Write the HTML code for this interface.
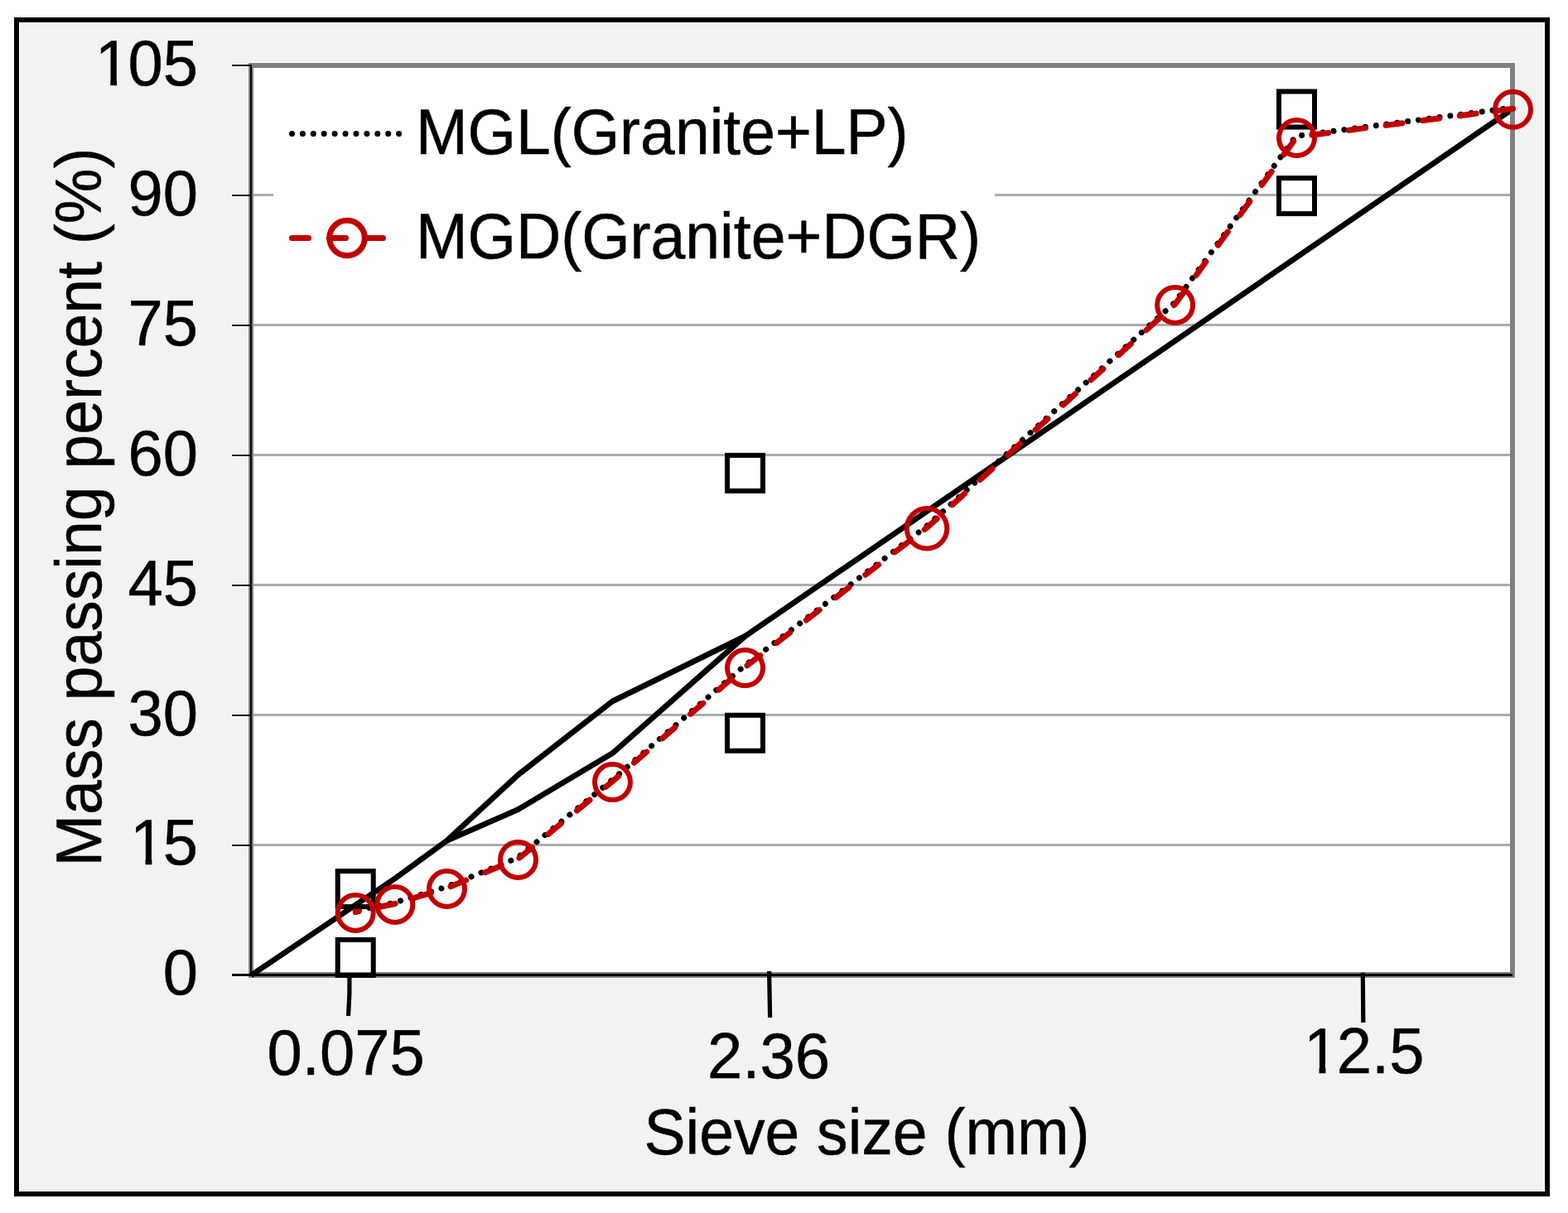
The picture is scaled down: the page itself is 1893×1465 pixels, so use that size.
<!DOCTYPE html>
<html lang="en">
<head>
<meta charset="utf-8">
<title>Aggregate gradation chart</title>
<style>
html,body{margin:0;padding:0;background:#fff;}
body{width:1893px;height:1465px;overflow:hidden;}
svg{display:block;}
text{font-family:"Liberation Sans",Arial,sans-serif;fill:#000;stroke:#000;stroke-width:0.5px;stroke-linejoin:round;}
</style>
</head>
<body>
<svg width="1893" height="1465" viewBox="0 0 1893 1465">
<rect x="0" y="0" width="1893" height="1465" fill="#fff"/>
<!-- outer frame -->
<rect x="17" y="21" width="1854" height="1424" fill="#000"/>
<rect x="23" y="27" width="1842" height="1412" fill="#fff"/>
<rect x="24" y="28" width="1840" height="1410" fill="#f2f2f2"/>
<defs><clipPath id="cp"><rect x="300" y="76" width="1523.3" height="1106"/></clipPath></defs>
<!-- plot area -->
<rect x="299" y="75" width="1531" height="1107" fill="#fff"/>
<rect x="306" y="82" width="1517" height="1092" fill="#fff"/>

<path d="M300 76H1829V1181H300Z M306 82V1174H1823V82Z" fill="#808080" fill-rule="evenodd"/>
<g fill="#afabab">
<rect x="306" y="1019" width="1517" height="3"/>
<rect x="306" y="862" width="1517" height="3"/>
<rect x="306" y="705" width="1517" height="3"/>
<rect x="306" y="548" width="1517" height="3"/>
<rect x="306" y="391" width="1517" height="3"/>
<rect x="306" y="234" width="24" height="3"/>
<rect x="1201" y="234" width="622" height="3"/>
</g>
<g stroke="#000" stroke-width="6.8" fill="none" stroke-linejoin="round" clip-path="url(#cp)">
<polyline points="303.0,1178.0 429.2,1093.0 476.8,1061.0 539.5,1015.3 625.5,935.8 739.5,846.9 899.5,768.4 1826.5,131.3"/>
<polyline points="539.5,1015.3 625.5,977.7 739.5,909.7 899.5,768.4"/>
</g>
<g fill="#fff">
<rect x="279" y="1019" width="21" height="4"/>
<rect x="279" y="862" width="21" height="4"/>
<rect x="279" y="705" width="21" height="4"/>
<rect x="279" y="548" width="21" height="4"/>
<rect x="279" y="391" width="21" height="4"/>
<rect x="279" y="234" width="21" height="4"/>
<rect x="279" y="77" width="21" height="4"/>
<rect x="279" y="1175" width="21" height="5"/>
</g>
<g fill="#000">
<rect x="302" y="78" width="2" height="1100"/>
<rect x="280" y="1020" width="23" height="2"/>
<rect x="280" y="863" width="23" height="2"/>
<rect x="280" y="706" width="23" height="2"/>
<rect x="280" y="549" width="23" height="2"/>
<rect x="280" y="392" width="23" height="2"/>
<rect x="280" y="235" width="23" height="2"/>
<rect x="280" y="78" width="23" height="2"/>
<rect x="280" y="1176" width="1546" height="3"/>
</g>
<g stroke="#000" stroke-width="5.2" fill="none">
<polyline points="421.9,1178 421.9,1200 420.5,1227"/>
<line x1="928.6" y1="1173" x2="929.6" y2="1229"/>
<line x1="1645.3" y1="1175" x2="1645.8" y2="1235"/>
</g>
<text transform="translate(239.00,1201.40) scale(1,1.025)" font-size="76" text-anchor="end">0</text>
<text transform="translate(236.50,1044.47) scale(1,1.025)" font-size="76" text-anchor="end" dx="2.5 -2.5">15</text>
<rect x="160.00" y="1036.87" width="15.50" height="10.26" fill="#f2f2f2"/>
<rect x="183.34" y="1036.87" width="13.22" height="10.26" fill="#f2f2f2"/>
<text transform="translate(239.00,887.54) scale(1,1.025)" font-size="76" text-anchor="end">30</text>
<text transform="translate(239.00,730.61) scale(1,1.025)" font-size="76" text-anchor="end">45</text>
<text transform="translate(239.00,573.69) scale(1,1.025)" font-size="76" text-anchor="end">60</text>
<text transform="translate(239.00,416.76) scale(1,1.025)" font-size="76" text-anchor="end">75</text>
<text transform="translate(239.00,259.83) scale(1,1.025)" font-size="76" text-anchor="end">90</text>
<text transform="translate(236.50,102.90) scale(1,1.025)" font-size="76" text-anchor="end" dx="2.5 -2.5">105</text>
<rect x="117.74" y="95.30" width="15.50" height="10.26" fill="#f2f2f2"/>
<rect x="141.08" y="95.30" width="13.22" height="10.26" fill="#f2f2f2"/>
<text transform="translate(417.60,1298.00) scale(1,1.025)" font-size="76" text-anchor="middle">0.075</text>
<text transform="translate(928.00,1302.00) scale(1,1.025)" font-size="76" text-anchor="middle">2.36</text>
<text transform="translate(1716.96,1296.00) scale(1,1.025)" font-size="76" text-anchor="end" dx="2.5 -2.5">12.5</text>
<rect x="1577.08" y="1288.40" width="15.50" height="10.26" fill="#f2f2f2"/>
<rect x="1600.42" y="1288.40" width="13.22" height="10.26" fill="#f2f2f2"/>
<text transform="translate(1046.50,1394.00) scale(1,1.03)" font-size="75.1" text-anchor="middle">Sieve size (mm)</text>
<text transform="translate(122.30,612.50) rotate(-90) scale(1,1.03)" font-size="75.1" text-anchor="middle">Mass passing percent (%)</text>
<g stroke="#000" stroke-width="6" fill="none">
<rect x="407.7" y="1052.1" width="43" height="43"/>
<rect x="407.7" y="1135.0" width="43" height="43"/>
<rect x="878.0" y="549.9" width="43" height="43"/>
<rect x="878.0" y="863.8" width="43" height="43"/>
<rect x="1544.0" y="110.5" width="43" height="43"/>
<rect x="1544.0" y="215.1" width="43" height="43"/>
</g>
<polyline points="428.2,1100.3 475.8,1090.3 538.5,1071.3 624.5,1036.2 738.5,942.4 898.5,804.4 1118.0,636.1 1417.6,366.2 1564.5,164.3 1825.5,130.1" stroke="#000" stroke-width="7" stroke-linecap="round" stroke-dasharray="0.01 12.9" stroke-dashoffset="7.8" fill="none"/>
<polyline points="429.2,1101.5 476.8,1091.5 539.5,1072.5 625.5,1037.4 739.5,943.6 899.5,805.6 1119.0,637.3 1418.6,367.4 1565.5,165.5 1826.5,131.3" stroke="#c00000" stroke-width="7" stroke-linecap="round" stroke-dasharray="20 25" stroke-dashoffset="16" fill="none"/>
<g stroke="#c00000" stroke-width="6" fill="none">
<circle cx="429.2" cy="1102.5" r="21.5"/>
<circle cx="476.8" cy="1092.5" r="21.5"/>
<circle cx="539.5" cy="1073.5" r="21.5"/>
<circle cx="625.5" cy="1038.4" r="21.5"/>
<circle cx="739.5" cy="944.6" r="21.5"/>
<circle cx="899.5" cy="806.6" r="21.5"/>
<circle cx="1119.0" cy="638.3" r="24.25"/>
<circle cx="1418.6" cy="368.4" r="21.5"/>
<circle cx="1565.5" cy="166.5" r="21.5"/>
<circle cx="1826.5" cy="132.3" r="21.5"/>
</g>
<rect x="330" y="100" width="871" height="250" fill="#fff"/>
<line x1="352.5" y1="161.6" x2="485" y2="161.6" stroke="#000" stroke-width="7" stroke-linecap="round" stroke-dasharray="0.01 12.9"/>
<line x1="352.5" y1="287.5" x2="485" y2="287.5" stroke="#c00000" stroke-width="7" stroke-linecap="round" stroke-dasharray="20 25"/>
<circle cx="419" cy="287.5" r="21.25" stroke="#c00000" stroke-width="7" fill="none"/>
<text transform="translate(502.00,186.00) scale(1,1.03)" font-size="75.1">MGL(Granite+LP)</text>
<text transform="translate(502.00,312.00) scale(1,1.03)" font-size="75.1">MGD(Granite+DGR)</text>
</svg>
</body>
</html>
